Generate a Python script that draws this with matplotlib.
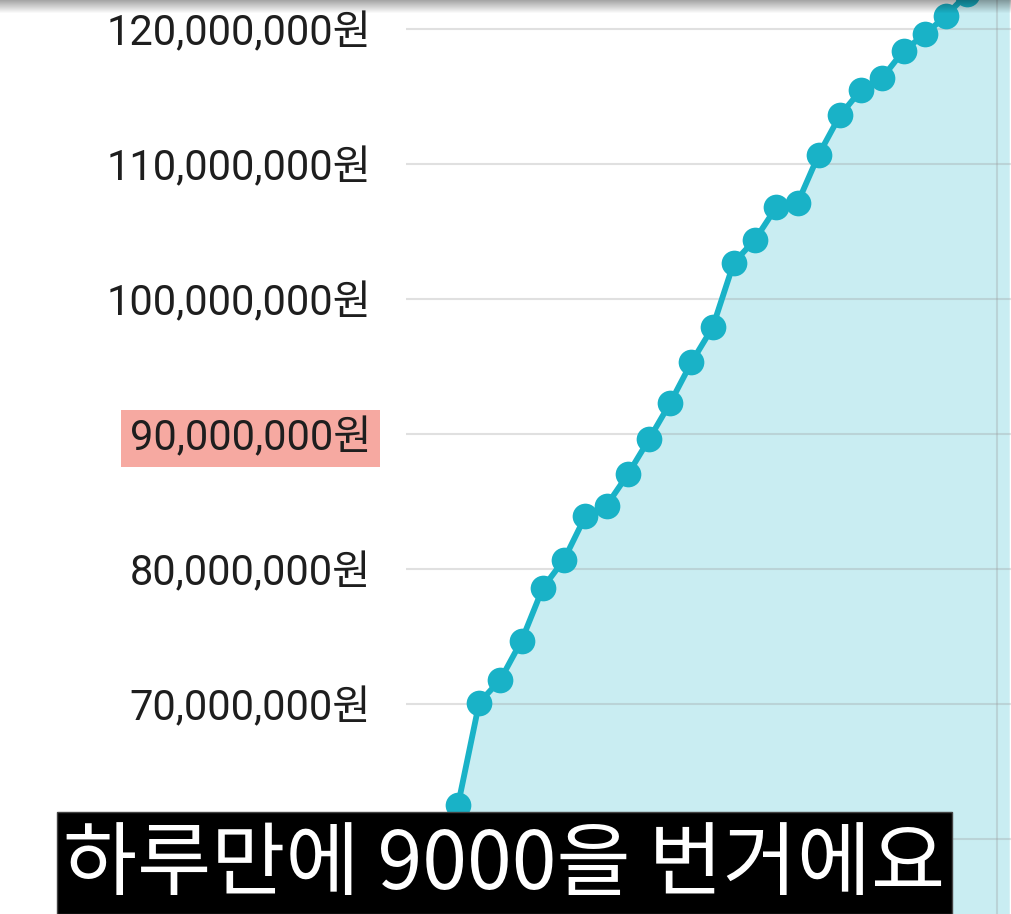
import numpy as np
import matplotlib
matplotlib.use("Agg")
import matplotlib.pyplot as plt
from matplotlib.patches import Rectangle
from matplotlib.ticker import FuncFormatter

# 일별 누적 금액 (원) - 앞 3개, 뒤 3개는 화면 밖/자막 뒤에 가려짐
days = np.arange(1, 31)
amounts = np.array([
    52.0, 55.0, 58.5,
    62.5, 70.1, 71.8, 74.7, 78.6, 80.7, 83.9, 84.7, 87.0, 89.6,
    92.3, 95.3, 97.9, 102.7, 104.4, 106.8, 107.1, 110.7, 113.6, 115.5,
    116.4, 118.4, 119.6, 121.0,
    122.6, 124.0, 125.5,
]) * 1_000_000
y_ticks = np.arange(60, 121, 10) * 1_000_000
hidden_tick = 60_000_000  # 자막 뒤에 가려진 눈금
highlight_tick = 90_000_000
subtitle = "하루만에 9000을 번거에요"

LINE = "#19b2c7"
FILL = "#c9edf2"


def won(v, pos):
    if abs(v - hidden_tick) < 1:
        return ""
    return f"{v:,.0f}원"


fig = plt.figure(figsize=(10.11, 9.14), dpi=100)
fig.patch.set_facecolor("white")

W, H = 1011, 914
ax = fig.add_axes([406 / W, 0, (W - 406) / W, 1])
ax.set_facecolor("white")

ax.fill_between(days, amounts, 0, color=FILL, lw=0, zorder=1)
ax.plot(days, amounts, color=LINE, lw=4.2, marker="o", markersize=18.5,
        markeredgewidth=0, zorder=3)

ax.set_xlim(1.55, 30.06)
ax.set_ylim(54.44e6, 122.15e6)

ax.set_yticks(y_ticks)
ax.yaxis.set_major_formatter(FuncFormatter(won))
ax.tick_params(axis="y", length=0, pad=25, labelsize=30, labelcolor="#1e1e1e")
ax.set_xticks([])
for lbl in ax.get_yticklabels():
    lbl.set_fontfamily(["Roboto", "Noto Sans CJK KR"])
ax.grid(axis="y", color="#9a9a9a", alpha=0.3, lw=1.5)
ax.set_axisbelow("line")
ax.axvline(29.4, color="#9a9a9a", alpha=0.3, lw=1.5, zorder=1.5)
for s in ax.spines.values():
    s.set_visible(False)

fig.canvas.draw()
for lbl, v in zip(ax.get_yticklabels(), y_ticks):
    if v == highlight_tick:
        lbl.set_bbox(dict(facecolor="#f6a9a1", edgecolor="none", pad=6))

# top shadow
shade = fig.add_axes([0, 1 - 14 / H, 1, 14 / H])
grad = np.zeros((14, 2, 4))
grad[..., 3] = np.linspace(0.35, 0.0, 14)[:, None]
shade.imshow(grad, aspect="auto", extent=[0, 1, 0, 1])
shade.axis("off")

# subtitle
fig.add_artist(Rectangle((57 / W, 0), (952 - 57) / W, (914 - 812) / H,
                         transform=fig.transFigure, facecolor="black",
                         edgecolor="#444444", lw=1, zorder=5))
fig.text(504 / W, 1 - 866 / H, subtitle, color="white", fontsize=58,
         family=["Noto Sans CJK KR", "DejaVu Sans"], weight="light",
         ha="center", va="center", zorder=6)

fig.savefig("out.png", dpi=100)
